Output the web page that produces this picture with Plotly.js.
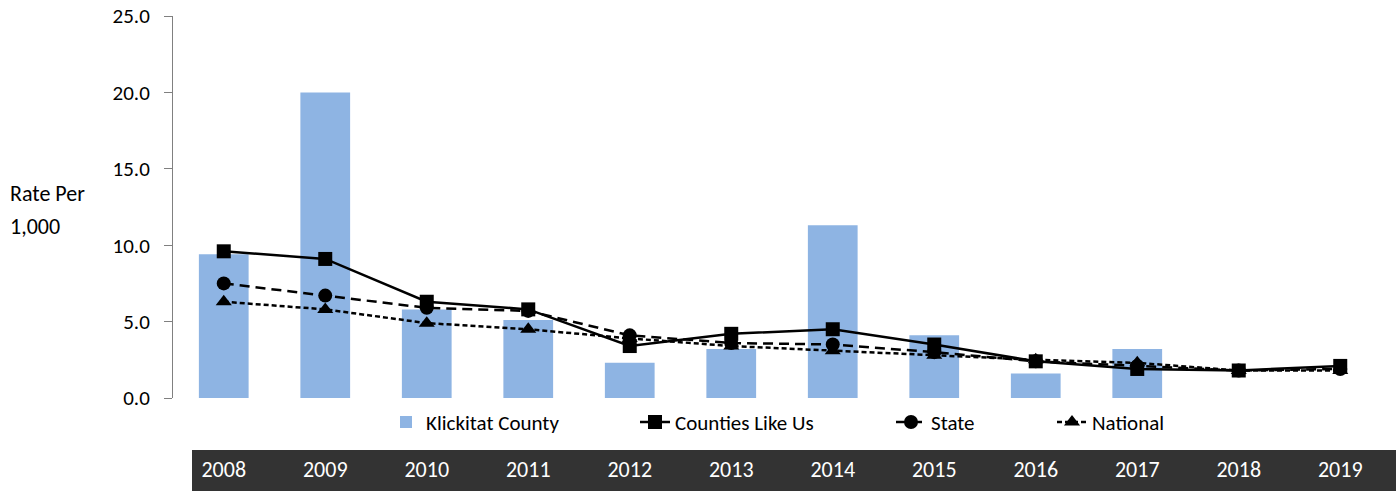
<!DOCTYPE html>
<html>
<head>
<meta charset="utf-8">
<script src="https://cdn.plot.ly/plotly-3.0.1.min.js"></script>
<style>
  html, body { margin: 0; padding: 0; background: #ffffff; }
  #chart { width: 1396px; height: 491px; }
</style>
</head>
<body>
<div id="chart"></div>
<script>
var years = ["2008", "2009", "2010", "2011", "2012", "2013", "2014", "2015", "2016", "2017", "2018", "2019"];
var klickitat = [9.4, 20.0, 5.8, 5.1, 2.3, 3.2, 11.3, 4.1, 1.6, 3.2, null, null];
var countiesLikeUs = [9.6, 9.1, 6.3, 5.8, 3.4, 4.2, 4.5, 3.5, 2.4, 1.9, 1.8, 2.1];
var state = [7.5, 6.7, 5.9, 5.7, 4.1, 3.6, 3.5, 3.0, 2.4, 2.1, 1.8, 1.9];
var national = [6.3, 5.8, 4.9, 4.5, 3.9, 3.4, 3.1, 2.8, 2.5, 2.3, 1.8, 1.8];
var yTickVals = [0, 5, 10, 15, 20, 25];

var FONT = "Carlito, Lato, 'Open Sans', sans-serif";

var traces = [
  {
    type: "bar", name: "Klickitat County", x: years, y: klickitat,
    marker: { color: "#8EB4E3", line: { width: 0 } },
    legendwidth: 204
  },
  {
    type: "scatter", mode: "lines+markers", name: "Counties Like Us", x: years, y: countiesLikeUs,
    line: { color: "#000000", width: 2.5 },
    marker: { symbol: "square", size: 14, color: "#000000" },
    legendwidth: 211
  },
  {
    type: "scatter", mode: "lines+markers", name: "State", x: years, y: state,
    line: { color: "#000000", width: 2.5, dash: "10px,6px" },
    marker: { symbol: "circle", size: 14, color: "#000000" },
    legendwidth: 116
  },
  {
    type: "scatter", mode: "lines+markers", name: "National", x: years, y: national,
    line: { color: "#000000", width: 2.5, dash: "5px,3px" },
    marker: { symbol: "triangle-up", size: 14, color: "#000000" },
    legendwidth: 110
  }
];

var layout = {
  width: 1396, height: 491,
  margin: { l: 173, r: 5, t: 16, b: 93, pad: 0 },
  paper_bgcolor: "#ffffff",
  plot_bgcolor: "rgba(0,0,0,0)",
  font: { family: FONT, size: 20, color: "#000000" },
  bargap: 0.51,
  showlegend: true,
  hovermode: false,
  xaxis: {
    type: "category",
    range: [-0.5, 11.5],
    showline: false, showgrid: false, zeroline: false,
    ticks: "",
    ticklabelstandoff: 56,
    tickfont: { family: FONT, size: 22, color: "#ffffff" },
    fixedrange: true
  },
  yaxis: {
    range: [0, 25],
    tickvals: yTickVals,
    tickformat: ".1f",
    showline: true, linecolor: "#808080", linewidth: 1,
    ticks: "outside", ticklen: 8, tickcolor: "#808080", tickwidth: 1,
    ticklabelstandoff: 10,
    showgrid: false, zeroline: false,
    tickfont: { family: FONT, size: 21, color: "#000000" },
    fixedrange: true
  },
  legend: {
    orientation: "h",
    x: (386 - 173) / 1218, xanchor: "left",
    y: -0.01, yanchor: "top",
    font: { family: FONT, size: 21, color: "#000000" },
    bgcolor: "rgba(0,0,0,0)",
    borderwidth: 0,
    traceorder: "normal",
    tracegroupgap: 0
  },
  shapes: [
    {
      type: "rect", xref: "paper", yref: "paper", layer: "below",
      x0: (192 - 173) / 1218, x1: (1396 - 173) / 1218,
      y0: -(491 - 398) / 382, y1: -(450 - 398) / 382,
      fillcolor: "#333333", line: { width: 0 }
    }
  ],
  annotations: [
    {
      text: "Rate Per", xref: "paper", yref: "paper",
      x: (8 - 173) / 1218, y: (398 - 193) / 382,
      xanchor: "left", yanchor: "middle", showarrow: false,
      font: { family: FONT, size: 22, color: "#000000" }
    },
    {
      text: "1,000", xref: "paper", yref: "paper",
      x: (8 - 173) / 1218, y: (398 - 226) / 382,
      xanchor: "left", yanchor: "middle", showarrow: false,
      font: { family: FONT, size: 22, color: "#000000" }
    }
  ]
};

Plotly.newPlot("chart", traces, layout, { displayModeBar: false, staticPlot: true });
</script>
</body>
</html>
